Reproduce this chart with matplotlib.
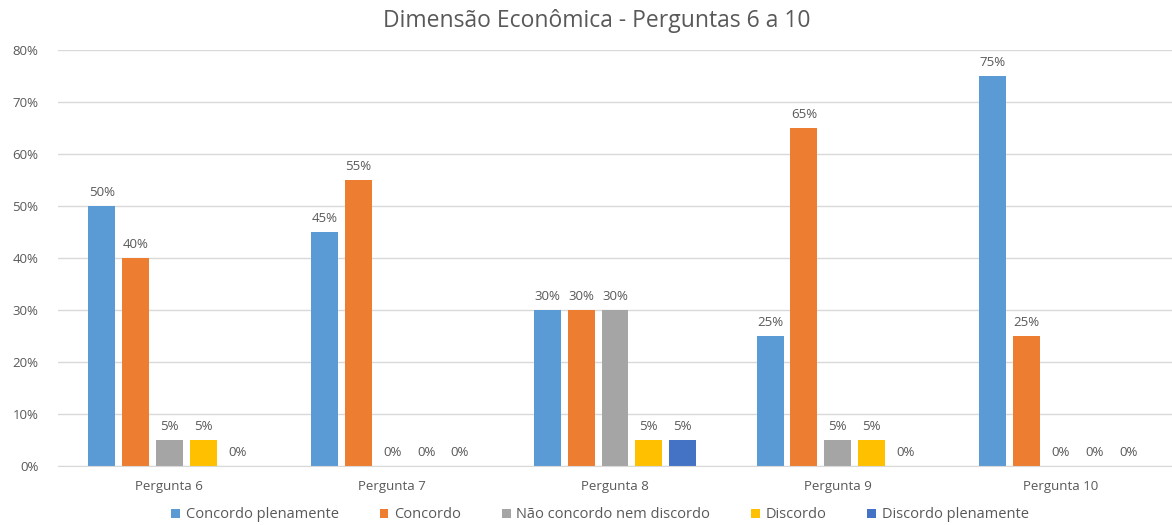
import numpy as np
import matplotlib.pyplot as plt

categories = ["Pergunta 6", "Pergunta 7", "Pergunta 8", "Pergunta 9", "Pergunta 10"]
series_names = ["Concordo plenamente", "Concordo", "Não concordo nem discordo",
                "Discordo", "Discordo plenamente"]
concordo_plen = [50, 45, 30, 25, 75]
concordo = [40, 55, 30, 65, 25]
neutro = [5, 0, 30, 5, 0]
discordo = [5, 0, 5, 5, 0]
discordo_plen = [0, 0, 5, 0, 0]
colors = ["#5B9BD5", "#ED7D31", "#A5A5A5", "#FFC000", "#4472C4"]

TEXT = "#595959"
plt.rcParams["font.family"] = ["Open Sans", "DejaVu Sans"]

fig = plt.figure(figsize=(11.72, 5.25), dpi=100)
ax = fig.add_axes([0.0495, 0.1124, 0.9505, 0.7924])

x = np.arange(len(categories))
step = 0.152
width = 0.121
all_series = [concordo_plen, concordo, neutro, discordo, discordo_plen]
for i, (vals, name, col) in enumerate(zip(all_series, series_names, colors)):
    pos = x + (i - 2) * step
    bars = ax.bar(pos, vals, width, color=col, label=name, zorder=2)
    for b, v in zip(bars, vals):
        ax.annotate(f"{v}%", (b.get_x() + b.get_width() / 2, v),
                    xytext=(0, 5), textcoords="offset points",
                    ha="center", va="bottom", fontsize=9.5, color=TEXT)

ax.set_xlim(-0.5, len(categories) - 0.5)
ax.set_ylim(0, 80)
ax.set_yticks(range(0, 81, 10))
ax.set_yticklabels([f"{t}%" for t in range(0, 81, 10)])
ax.set_xticks(x)
ax.set_xticklabels(categories)
ax.tick_params(axis="both", length=0, labelsize=9.5, colors=TEXT)
ax.tick_params(axis="x", pad=10)
ax.tick_params(axis="y", pad=14)
ax.grid(axis="y", color="#D9D9D9", linewidth=1, zorder=0)
for s in ["top", "right", "left"]:
    ax.spines[s].set_visible(False)
ax.spines["bottom"].set_color("#D9D9D9")

fig.suptitle("Dimensão Econômica - Perguntas 6 a 10", x=0.509, y=0.982,
             fontsize=16.5, color=TEXT)

fig.legend(loc="lower center", bbox_to_anchor=(0.512, -0.02), ncol=5,
           frameon=False, fontsize=10.5, labelcolor=TEXT,
           handlelength=0.6, handleheight=0.6, handletextpad=0.4,
           columnspacing=2.8)

fig.savefig("out.png", dpi=100)
